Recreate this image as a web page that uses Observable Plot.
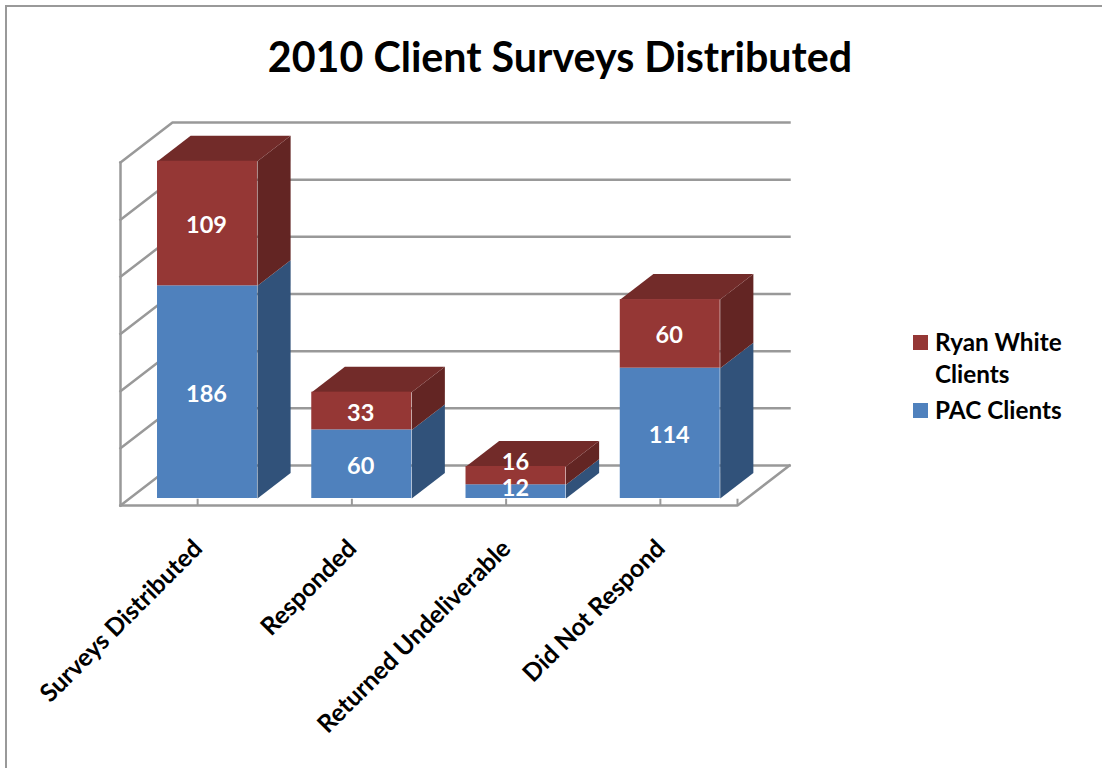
<!DOCTYPE html>
<html>
<head>
<meta charset="utf-8">
<script src="https://cdn.jsdelivr.net/npm/d3@7"></script>
<script src="https://cdn.jsdelivr.net/npm/@observablehq/plot@0.6"></script>
<style>
  html, body { margin: 0; padding: 0; background: #fff; width: 1102px; height: 768px; overflow: hidden; font-family: Lato, sans-serif; }
  #frame { position: absolute; left: 5px; top: 5px; width: 1097px; height: 763px; box-sizing: border-box; border-left: 2px solid #999; border-top: 2px solid #999; }
  #title { position: absolute; left: 0; top: 0; width: 1120px; height: 100px; text-align: center; font: 700 41.2px/113px Lato, sans-serif; color: #000; }
  #chart { position: absolute; left: 0; top: 100px; }
  .legend-swatch { position: absolute; width: 15px; height: 15px; }
  .legend-label { position: absolute; left: 935px; width: 150px; font: 700 24.3px/32px Lato, sans-serif; color: #000; }
</style>
</head>
<body>
<div id="frame"></div>
<div id="title"></div>
<div id="chart"></div>
<script>
const chartTitle = "2010 Client Surveys Distributed";
const categories = ["Surveys Distributed", "Responded", "Returned Undeliverable", "Did Not Respond"];
const pacClients = [186, 60, 12, 114];
const ryanWhiteClients = [109, 33, 16, 60];
const gridValues = [0, 50, 100, 150, 200, 250, 300];
const seriesNames = ["PAC Clients", "Ryan White Clients"];

const palette = {
  "PAC Clients": {front: "#4f81bd", side: "#31527a", top: "#3a6090"},
  "Ryan White Clients": {front: "#953735", side: "#632523", top: "#722b29"}
};

// Oblique projection, expressed in the scales' own units
const svgTop = 100;
const xUnitsPerDepth = 0.337, yUnitsPerDepth = 35;
const project = (u, v, d) => ({x: u + xUnitsPerDepth * d, y: v + yUnitsPerDepth * d});
const barOffset = 0.181, barWidth = 0.648, barFrontDepth = 0.175, barBackDepth = 0.8125;

const stacks = [];
categories.forEach((c, i) => {
  const a = pacClients[i], b = ryanWhiteClients[i];
  stacks.push({category: c, i, series: seriesNames[0], value: a, lo: 0, hi: a, isTop: false});
  stacks.push({category: c, i, series: seriesNames[1], value: b, lo: a, hi: a + b, isTop: true});
});

// Faces on the depth axis of each bar segment
const faces = [];
for (const s of stacks) {
  const xa = s.i + barOffset, xb = xa + barWidth;
  const id = s.i + s.series;
  const f = barFrontDepth, g = barBackDepth;
  [[xb, s.lo, f], [xb, s.lo, g], [xb, s.hi, g], [xb, s.hi, f]].forEach(p =>
    faces.push({...project(...p), id: id + "side", color: palette[s.series].side}));
  if (s.isTop) {
    [[xa, s.hi, f], [xa, s.hi, g], [xb, s.hi, g], [xb, s.hi, f]].forEach(p =>
      faces.push({...project(...p), id: id + "top", color: palette[s.series].top}));
  }
}

// Wall and floor lines
const frameLines = [];
const n = categories.length;
const addLine = (id, pts) => pts.forEach(p => frameLines.push({...project(...p), id}));
for (const v of gridValues) addLine("grid" + v, [[0, v, 0], [0, v, 1], [n, v, 1]]);
addLine("left", [[0, 0, 0], [0, gridValues[gridValues.length - 1], 0]]);
addLine("floor", [[0, 0, 0], [n, 0, 0], [n, 0, 1]]);

const tickPositions = d3.range(n + 1).map(i => i === n ? n : i + 0.5);

const isShort = d => d.value < 20;
const labelX = d => d.i + barOffset + barWidth / 2 + xUnitsPerDepth * barFrontDepth;
const labelY = d => (d.lo + d.hi) / 2 + yUnitsPerDepth * barFrontDepth;
const labelFont = {fill: "#fff", fontWeight: 700, fontSize: 23.5, fontFamily: "Lato, sans-serif"};

const chart = Plot.plot({
  width: 1102,
  height: 668,
  margin: 0,
  style: {background: "transparent", overflow: "visible"},
  x: {domain: [0, n], range: [120, 737], axis: null},
  y: {domain: [0, 300], range: [505 - svgTop, 162 - svgTop], axis: null},
  color: {type: "identity"},
  marks: [
    Plot.line(frameLines, {x: "x", y: "y", z: "id", stroke: "#999", strokeWidth: 2.5, strokeLinejoin: "miter", strokeLinecap: "square"}),
    Plot.ruleX(tickPositions, {x: d => d, y1: 0, y2: 5.5, stroke: "#999", strokeWidth: 2}),
    Plot.line(faces, {x: "x", y: "y", z: "id", fill: "color", stroke: "none"}),
    Plot.rect(stacks, {
      x1: d => d.i + barOffset + xUnitsPerDepth * barFrontDepth,
      x2: d => d.i + barOffset + barWidth + xUnitsPerDepth * barFrontDepth,
      y1: d => d.lo + yUnitsPerDepth * barFrontDepth,
      y2: d => d.hi + yUnitsPerDepth * barFrontDepth,
      fill: d => palette[d.series].front,
      inset: 0
    }),
    Plot.text(stacks.filter(d => !isShort(d)), {x: labelX, y: labelY, text: d => String(d.value), dx: -1, dy: 2, ...labelFont}),
    Plot.text(stacks.filter(d => d.value === 12), {x: labelX, y: labelY, text: d => String(d.value), dy: -3, dx: -0.5, ...labelFont}),
    Plot.text(stacks.filter(d => d.value === 16), {x: labelX, y: labelY, text: d => String(d.value), dy: -13, dx: -0.5, ...labelFont}),
    Plot.text(categories, {
      x: (d, i) => i + 0.5,
      y: () => 0,
      dy: 39,
      dx: 0.5,
      text: d => d,
      rotate: -45,
      textAnchor: "end",
      fill: "#000",
      fontWeight: 700,
      fontSize: 24.8,
      fontFamily: "Lato, sans-serif"
    })
  ]
});
document.getElementById("chart").appendChild(chart);
document.getElementById("title").textContent = chartTitle;

// Legend
const legendEntries = [
  {name: seriesNames[1], top: 335, textTop: 326, html: "Ryan White<br>Clients"},
  {name: seriesNames[0], top: 403, textTop: 394, html: "PAC Clients"}
];
for (const e of legendEntries) {
  const sw = document.createElement("div");
  sw.className = "legend-swatch";
  sw.style.left = "913px";
  sw.style.top = e.top + "px";
  sw.style.background = palette[e.name].front;
  document.body.appendChild(sw);
  const lb = document.createElement("div");
  lb.className = "legend-label";
  lb.style.top = e.textTop + "px";
  lb.innerHTML = e.html;
  document.body.appendChild(lb);
}
</script>
</body>
</html>
